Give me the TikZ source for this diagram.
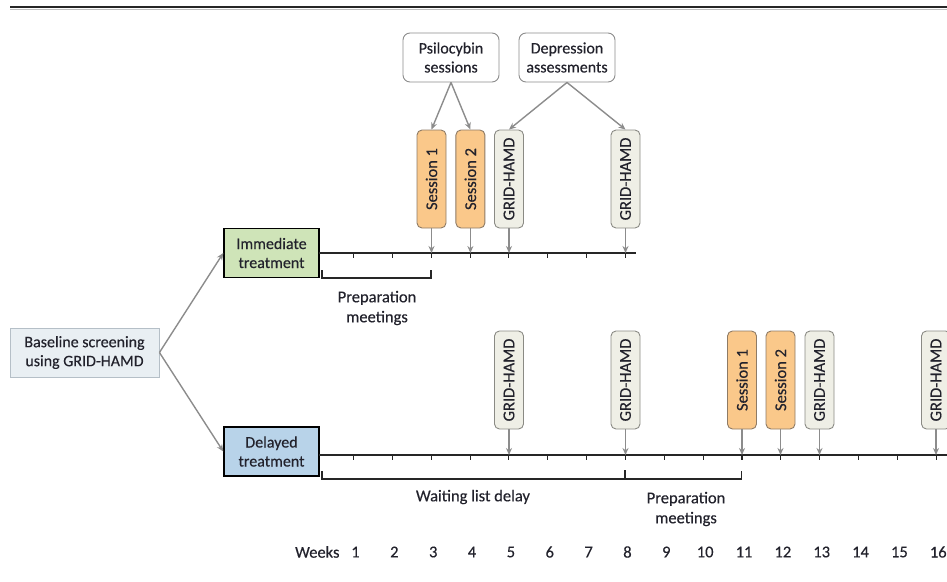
\documentclass[tikz,border=0pt]{standalone}
\usepackage{fontspec}
\setmainfont{Carlito}[FakeBold=0.35]
\usetikzlibrary{arrows.meta}

\definecolor{txt}{HTML}{22222C}
\definecolor{arrowgray}{HTML}{8C8C8C}
\definecolor{sessfill}{HTML}{FAC88A}
\definecolor{sessdraw}{HTML}{8E7B66}
\definecolor{hamdfill}{HTML}{EFEFE6}
\definecolor{hamddraw}{HTML}{8A8A84}
\definecolor{immfill}{HTML}{CFE4B8}
\definecolor{delfill}{HTML}{B8D3E9}
\definecolor{basefill}{HTML}{E9EFF3}
\definecolor{basedraw}{HTML}{B5BFC7}

\begin{document}
\begin{tikzpicture}[x=1pt, y=-1pt, >={Stealth[length=7pt, width=6pt]}]

    \tikzstyle{group}=[draw=black, line width=1.4pt, minimum width=95pt, minimum height=49pt, inner sep=2pt, align=center, text=txt, font=\fontsize{16}{19}\selectfont];
    \tikzstyle{visit}=[rotate=90, rounded corners=5pt, line width=0.9pt, minimum width=98pt, minimum height=29pt, inner sep=0pt, text=txt, font=\fontsize{16.5}{18}\selectfont];
    \tikzstyle{sess}=[visit, fill=sessfill, draw=sessdraw];
    \tikzstyle{hamd}=[visit, fill=hamdfill, draw=hamddraw];
    \tikzstyle{callout}=[draw=arrowgray, line width=0.9pt, rounded corners=7pt, fill=white, minimum width=96pt, minimum height=49pt, inner sep=2pt, align=center, text=txt, font=\fontsize{16}{19}\selectfont];
    \tikzstyle{link}=[->, draw=arrowgray, line width=1.4pt];
    \tikzstyle{tick}=[draw=black!85, line width=1.1pt];
    \tikzstyle{label}=[align=center, text=txt, font=\fontsize{16.5}{20}\selectfont];

    \useasboundingbox (0,0) rectangle (947,581);

    % top rule
    \draw[line width=2pt, black!85] (10,7) -- (947,7);
    \draw[line width=1pt, black!25] (10,9.5) -- (947,9.5);

    % arms
    \node[group, draw=basedraw, line width=0.9pt, fill=basefill, minimum width=149pt] (base) at (84.5,352.5) {Baseline screening\\using GRID-HAMD};
    \node[group, fill=immfill] (imm) at (271.5,253) {Immediate\\treatment};
    \node[group, fill=delfill] (del) at (271.5,451.5) {Delayed\\treatment};

    \draw (base.east) edge[link] (imm.west);
    \draw (base.east) edge[link] (del.west);

    % time axes
    \coordinate (top0) at (319,253);
    \coordinate (top1) at (636,253);
    \coordinate (bot0) at (319,455);
    \coordinate (bot1) at (947,455);
    \draw[tick] (top0) -- (top1);
    \draw[tick] (bot0) -- (bot1);

    \foreach \w in {1,...,8}
        \draw[tick] ({353.5+38.85*(\w-1)},253) -- ++(0,5);
    \foreach \w in {1,...,16}
        \draw[tick] ({353.5+38.85*(\w-1)},455) -- ++(0,5);

    % week numbers
    \foreach \w in {1,...,16}
        \node[label] (wk\w) at ({355.5+38.85*(\w-1)},552) {\w};
    \node[label, anchor=east] (weeks) at (343,552) {Weeks};

    % brackets
    \draw[tick] (322,270) -- (322,278) -- (431,278) -- (431,270);
    \draw[tick] (322,471) -- (322,479) -- (741.5,479) -- (741.5,471);
    \draw[line width=2.2pt, black!85] (625,479) -- (625,470);

    \node[label] (prep1) at (377,308) {Preparation\\meetings};
    \node[label] (wait) at (473,497) {Waiting list delay};
    \node[label] (prep2) at (686,509) {Preparation\\meetings};

    % immediate arm visits
    \node[sess] (s1a) at (431.5,179) {Session 1};
    \node[sess] (s2a) at (470.4,179) {Session 2};
    \node[hamd] (ga1) at (509,179)   {GRID-HAMD};
    \node[hamd] (ga2) at (625.5,179) {GRID-HAMD};

    % delayed arm visits
    \node[hamd] (gb1) at (509,380)   {GRID-HAMD};
    \node[hamd] (gb2) at (625.5,380) {GRID-HAMD};
    \node[sess] (s1b) at (742,380)   {Session 1};
    \node[sess] (s2b) at (780.5,380) {Session 2};
    \node[hamd] (gb3) at (819.5,380) {GRID-HAMD};
    \node[hamd] (gb4) at (936,380)   {GRID-HAMD};

    \foreach \v in {s1a,s2a,ga1,ga2}
        \draw[link] (\v.west) -- (\v.west |- top0);
    \foreach \v in {gb1,gb2,s1b,s2b,gb3,gb4}
        \draw[link] (\v.west) -- (\v.west |- bot0);

    % callouts
    \node[callout] (psi) at (451,57.5) {Psilocybin\\sessions};
    \node[callout] (dep) at (567,57.5) {Depression\\assessments};

    \draw (psi.south) edge[link] (s1a.east);
    \draw (psi.south) edge[link] (s2a.east);
    \draw (dep.south) edge[link] (ga1.east);
    \draw (dep.south) edge[link] (ga2.east);
\end{tikzpicture}
\end{document}
